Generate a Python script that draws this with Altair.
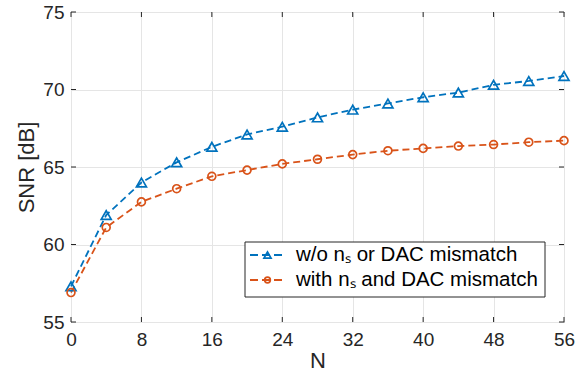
import altair as alt
import pandas as pd

# ---- data ----
N = [0, 4, 8, 12, 16, 20, 24, 28, 32, 36, 40, 44, 48, 52, 56]
snr_wo = [57.3, 61.9, 64.0, 65.3, 66.3, 67.1, 67.6, 68.2, 68.7, 69.1, 69.5, 69.8, 70.3, 70.55, 70.87]
snr_with = [56.9, 61.1, 62.75, 63.6, 64.4, 64.8, 65.2, 65.5, 65.8, 66.05, 66.2, 66.35, 66.45, 66.6, 66.7]
series_names = ["w/o nₛ or DAC mismatch", "with nₛ and DAC mismatch"]
series_colors = ["#0072BD", "#D95319"]
series_shapes = ["triangle-up", "circle"]
series_sizes = [100, 62]
legend_sizes = [50, 32]
x_ticks = [0, 8, 16, 24, 32, 40, 48, 56]
y_ticks = [55, 60, 65, 70, 75]

W, H = 493, 310
FONT = "Liberation Sans"
DARK = "#262626"

df = pd.DataFrame({
    "N": N * 2,
    "SNR": snr_wo + snr_with,
    "series": [series_names[0]] * len(N) + [series_names[1]] * len(N),
})

xs = alt.Scale(domain=[0, 56], nice=False, zero=False)
ys = alt.Scale(domain=[55, 75], nice=False, zero=False)
color = alt.Color("series:N", scale=alt.Scale(domain=series_names, range=series_colors), legend=None)

base = alt.Chart(df).encode(
    x=alt.X("N:Q", scale=xs,
            axis=alt.Axis(values=x_ticks, title="N", grid=True, labelPadding=8, titlePadding=1,
                          labelFlush=False)),
    y=alt.Y("SNR:Q", scale=ys,
            axis=alt.Axis(values=y_ticks, title="SNR [dB]", grid=True, labelPadding=7, titlePadding=4,
                          labelFlush=False)),
    color=color,
)

lines = base.mark_line(strokeDash=[7, 4], strokeWidth=1.8)
points = base.mark_point(filled=False, strokeWidth=1.7, opacity=1).encode(
    shape=alt.Shape("series:N", scale=alt.Scale(domain=series_names, range=series_shapes), legend=None),
    size=alt.Size("series:N", scale=alt.Scale(domain=series_names, range=series_sizes), legend=None),
)

# inward ticks (MATLAB style)
xt = pd.DataFrame({"v": x_ticks})
yt = pd.DataFrame({"v": y_ticks})
tick_x_bot = alt.Chart(xt).mark_rule(color=DARK, strokeWidth=1).encode(
    x=alt.X("v:Q", scale=xs), y=alt.value(H), y2=alt.value(H - 5))
tick_x_top = alt.Chart(xt).mark_rule(color=DARK, strokeWidth=1).encode(
    x=alt.X("v:Q", scale=xs), y=alt.value(0), y2=alt.value(5))
tick_y_left = alt.Chart(yt).mark_rule(color=DARK, strokeWidth=1).encode(
    y=alt.Y("v:Q", scale=ys), x=alt.value(0), x2=alt.value(5))
tick_y_right = alt.Chart(yt).mark_rule(color=DARK, strokeWidth=1).encode(
    y=alt.Y("v:Q", scale=ys), x=alt.value(W), x2=alt.value(W - 5))

# legend box
one = pd.DataFrame({"a": [0]})
leg_box = alt.Chart(one).mark_rect(fill="white", stroke=DARK, strokeWidth=1).encode(
    x=alt.value(174), x2=alt.value(474), y=alt.value(230), y2=alt.value(285))
legend_layers = [leg_box]
for i, name in enumerate(series_names):
    yp = 243 + 25 * i
    c = series_colors[i]
    legend_layers.append(alt.Chart(one).mark_rule(color=c, strokeWidth=1.8, strokeDash=[8, 4]).encode(
        x=alt.value(179), x2=alt.value(212), y=alt.value(yp)))
    legend_layers.append(alt.Chart(one).mark_point(filled=False, color=c, strokeWidth=1.7,
                                                   shape=series_shapes[i], opacity=1).encode(
        x=alt.value(196.5), y=alt.value(yp), size=alt.value(legend_sizes[i])))
    legend_layers.append(alt.Chart(one).mark_text(align="left", baseline="middle", font=FONT,
                                                  fontSize=20.5, color="black").encode(
        x=alt.value(225), y=alt.value(yp), text=alt.value(name)))

chart = alt.layer(
    lines, points, tick_x_bot, tick_x_top, tick_y_left, tick_y_right, *legend_layers
).properties(
    width=W, height=H,
    autosize=alt.AutoSizeParams(type="none"),
    padding={"left": 71, "top": 12, "right": 21, "bottom": 58},
).configure(font=FONT).configure_view(
    stroke=DARK, strokeWidth=1
).configure_axis(
    labelFont=FONT, titleFont=FONT, labelFontSize=19, titleFontSize=22,
    labelColor=DARK, titleColor=DARK, titleFontWeight="normal",
    gridColor="#e5e5e5", gridWidth=1, domain=False, ticks=False,
)

chart.save("out.html", embed_options={"renderer": "svg", "actions": False})
